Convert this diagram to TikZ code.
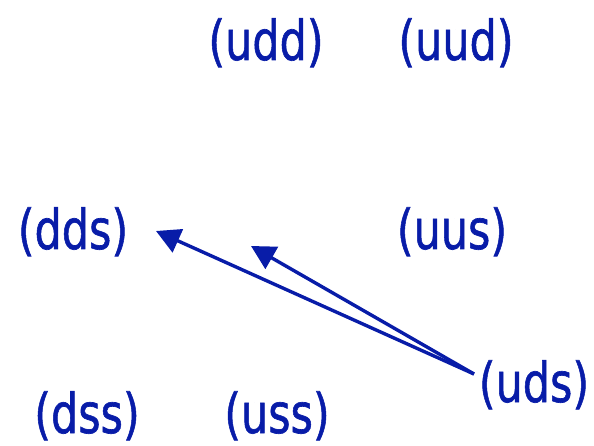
\documentclass[tikz,border=0pt]{standalone}
\usepackage{fontspec}
\setmainfont{DejaVu Sans}
\newfontfamily\qfont[FakeBold=1.2]{DejaVu Sans}
\usetikzlibrary{arrows.meta}
\definecolor{qblue}{RGB}{8,28,168}
\tikzset{
  lbl/.style={text=qblue, anchor=base, inner sep=0pt, font=\qfont\fontsize{55}{60}\selectfont},
  arr/.style={draw=qblue, line width=3.4pt, -{Triangle[length=24pt, width=25pt]}}
}
\newcommand{\qk}[1]{\scalebox{0.78}[1]{#1}}
\begin{document}
\begin{tikzpicture}[x=1pt,y=-1pt]
\useasboundingbox (0,0) rectangle (594,446);
\node[lbl] (udd) at (266,60) {\qk{(udd)}};
\node[lbl] (uud) at (456,60) {\qk{(uud)}};
\node[lbl] (dds) at (73,249) {\qk{(dds)}};
\node[lbl] (uus) at (452,249) {\qk{(uus)}};
\node[lbl] (uds) at (534,402) {\qk{(uds)}};
\node[lbl] (dss) at (87,433) {\qk{(dss)}};
\node[lbl] (uss) at (277,433) {\qk{(uss)}};
\coordinate (s) at (474,374);
\coordinate (t1) at (156,231);
\coordinate (t2) at (251,246);
\draw[arr] (s) -- (t1);
\draw[arr] (s) -- (t2);
\end{tikzpicture}
\end{document}
